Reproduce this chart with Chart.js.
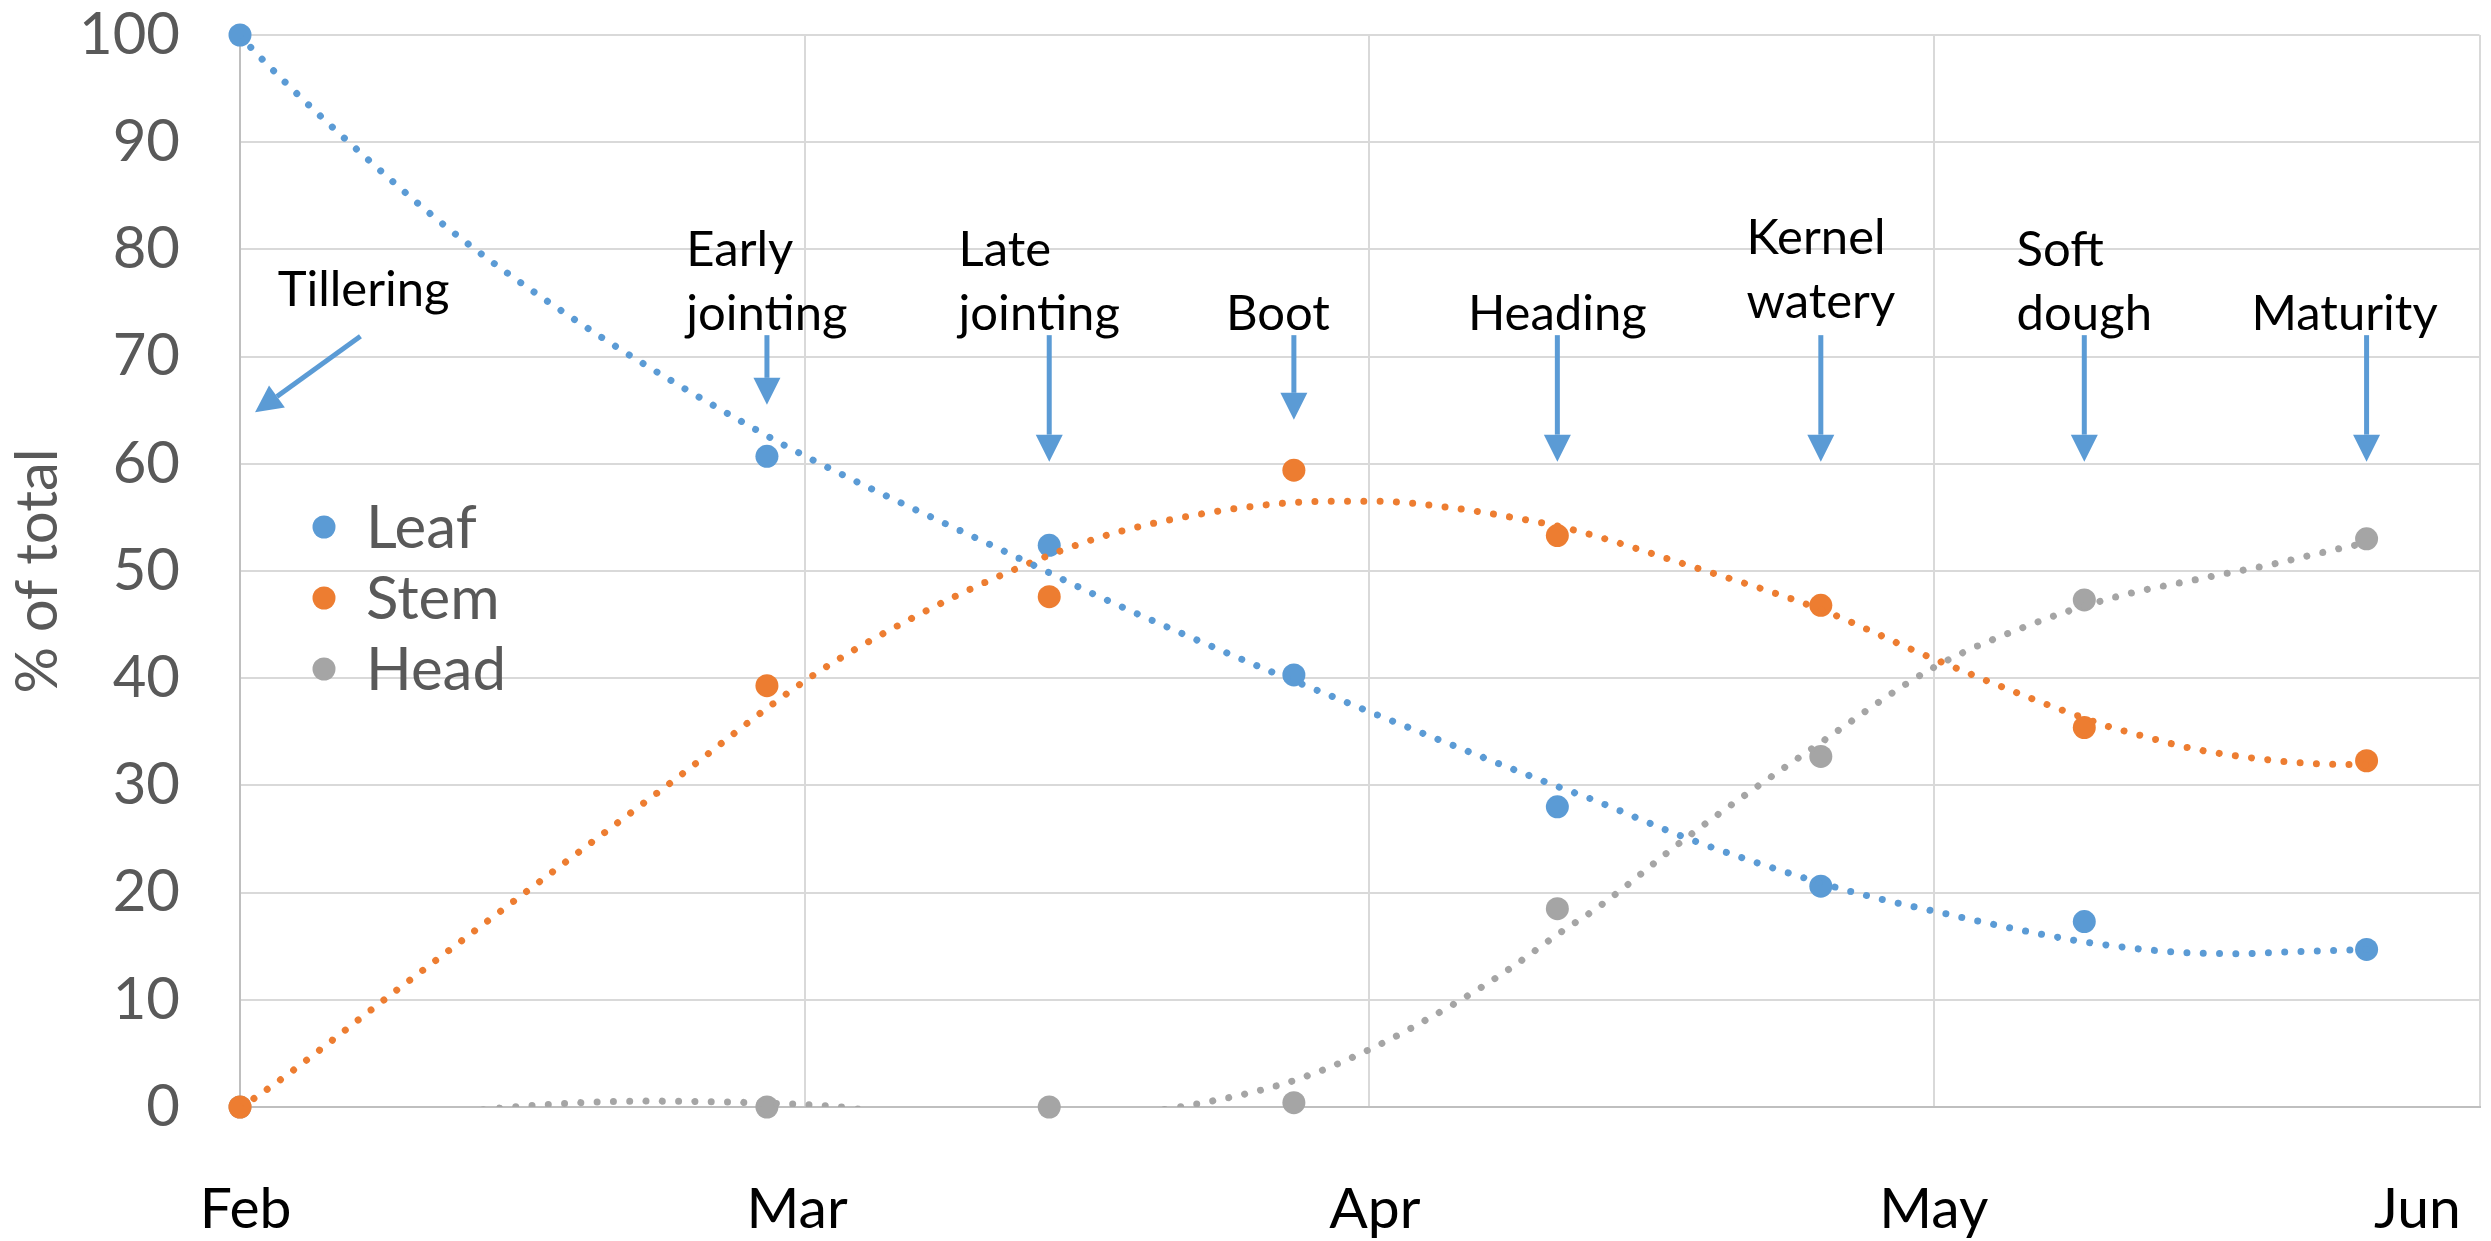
<!DOCTYPE html>
<html lang="en">
<head>
<meta charset="UTF-8" />
<title>Wheat growth stages - % of total</title>
<script src="https://cdn.jsdelivr.net/npm/chart.js@4.4.1/dist/chart.umd.min.js"></script>
<style>
  html, body { margin: 0; padding: 0; background: #ffffff; }
  #wrap { width: 2491px; height: 1241px; }
</style>
</head>
<body>
<div id="wrap"><canvas id="growthChart" width="2491" height="1241"></canvas></div>
<script>
// sampling dates, days after Feb 1
const sampleDays = [0, 28, 43, 56, 70, 84, 98, 113];
const leafPct = [100, 60.7, 52.4, 40.3, 28.0, 20.6, 17.3, 14.7];
const stemPct = [0, 39.3, 47.6, 59.4, 53.3, 46.8, 35.4, 32.3];
const headPct = [0, 0, 0, 0.4, 18.5, 32.7, 47.3, 53.0];

// dotted trend lines
const leafTrendDays = [0, 0.65, 8.2, 12.2, 19.3, 27.4, 30.5, 42.1, 45.3, 54.8, 57.2, 60.4, 70, 71.7, 77, 84, 87.4, 90.2, 93, 98, 102.5, 106, 109.3, 111.1, 113];
const leafTrendVals = [100, 98.7, 86.2, 80.4, 71.7, 63.2, 60.3, 50.6, 47.9, 40.6, 38.9, 36.6, 29.9, 28.8, 25.0, 20.9, 19.3, 18.2, 17.1, 15.4, 14.5, 14.3, 14.5, 14.6, 14.7];
const stemTrendDays = [0, 0.75, 8.4, 15, 22.7, 30.4, 35.6, 41.1, 45.8, 51, 56.1, 58.7, 60.4, 63.9, 67.3, 70.7, 77, 84, 90, 99.1, 100.7, 102.4, 104.1, 109.5, 113];
const stemTrendVals = [0, 0.8, 11.0, 19.8, 30.0, 40.2, 45.5, 50.1, 53.2, 55.3, 56.4, 56.5, 56.5, 56.0, 55.1, 53.9, 50.5, 46.4, 41.8, 35.6, 34.8, 34.0, 33.3, 32.1, 31.9];
const headTrendDays = [0, 7, 14.5, 21.5, 28, 31.9, 40, 49.9, 55.7, 59.7, 64.4, 67.3, 70.1, 72.3, 77, 84, 90, 95, 99.5, 104.5, 107.9, 112.1, 113];
const headTrendVals = [-2.5, -1.5, 0, 0.55, 0.35, 0, -2, 0, 2.3, 5.1, 9.5, 12.7, 16.2, 18.8, 25.3, 34.0, 41.0, 44.9, 47.5, 49.4, 50.6, 52.3, 52.6];

const seriesNames = ['Leaf', 'Stem', 'Head'];
const monthNames = ['Feb', 'Mar', 'Apr', 'May', 'Jun'];
const monthLabelDays = [0.3, 29.6, 60.3, 90, 115.7];

const stageNames = ['Early\njointing', 'Late\njointing', 'Boot', 'Heading', 'Kernel\nwatery', 'Soft\ndough', 'Maturity'];
const stageDays = [28, 43, 56, 70, 84, 98, 113];
const stageArrowTips = [65.5, 60.2, 64.1, 60.2, 60.2, 60.2, 60.2];

const seriesColors = ['#5B9BD5', '#ED7D31', '#A5A5A5'];
const FONT = 'Lato';

function toXY(xs, ys) {
  return xs.map((x, i) => ({ x: x, y: ys[i] }));
}

function pointSet(label, ys, color) {
  return {
    type: 'scatter',
    label: label,
    data: toXY(sampleDays, ys),
    pointRadius: 11.5,
    pointHoverRadius: 11.5,
    pointBackgroundColor: color,
    pointBorderWidth: 0,
    showLine: false,
    clip: false,
    order: 2
  };
}

function trendSet(label, xs, ys, color) {
  return {
    type: 'line',
    label: label + ' trend',
    data: toXY(xs, ys),
    borderColor: color,
    borderWidth: 7,
    borderDash: [0.001, 16.3],
    borderCapStyle: 'round',
    cubicInterpolationMode: 'monotone',
    pointRadius: 0,
    fill: false,
    order: 1
  };
}

function drawArrow(ctx, x1, y1, x2, y2) {
  const head = 27, half = 13.5;
  const ang = Math.atan2(y2 - y1, x2 - x1);
  const bx = x2 - head * Math.cos(ang);
  const by = y2 - head * Math.sin(ang);
  ctx.beginPath();
  ctx.moveTo(x1, y1);
  ctx.lineTo(bx, by);
  ctx.lineWidth = 5;
  ctx.strokeStyle = '#5B9BD5';
  ctx.stroke();
  ctx.beginPath();
  ctx.moveTo(x2, y2);
  ctx.lineTo(bx + half * Math.sin(ang), by - half * Math.cos(ang));
  ctx.lineTo(bx - half * Math.sin(ang), by + half * Math.cos(ang));
  ctx.closePath();
  ctx.fillStyle = '#5B9BD5';
  ctx.fill();
}

// text boxes that are not quite centred on their arrow (px)
const noteNudge = { 'Late\njointing': -10, 'Boot': -16, 'Maturity': -22 };

// stage labels with arrows
const stageNotes = {
  id: 'stageNotes',
  afterDatasetsDraw(chart) {
    const { ctx } = chart;
    const x = chart.scales.x, y = chart.scales.y;
    ctx.save();
    ctx.font = '49px ' + FONT;
    ctx.textBaseline = 'alphabetic';
    stageNames.forEach((name, i) => {
      const px = x.getPixelForValue(stageDays[i]);
      const top = y.getPixelForValue(72);
      const tip = y.getPixelForValue(stageArrowTips[i]);
      const lines = name.split('\n');
      const w = Math.max(...lines.map(l => ctx.measureText(l).width));
      // the Kernel box sits a little higher
      const lift = name.startsWith('Kernel') ? 12 : 0;
      const left = px - w / 2 + (noteNudge[name] || 0);
      ctx.fillStyle = '#000000';
      lines.forEach((l, j) => {
        ctx.fillText(l, left, top - 5 - lift - (lines.length - 1 - j) * 64);
      });
      drawArrow(ctx, px, top, px, tip);
    });
    // Tillering
    ctx.fillStyle = '#000000';
    ctx.fillText('Tillering', x.getPixelForValue(2.0), y.getPixelForValue(74.7));
    drawArrow(ctx, x.getPixelForValue(6.4), y.getPixelForValue(71.9),
      x.getPixelForValue(0.8), y.getPixelForValue(64.8));
    ctx.restore();
  }
};

// legend sits inside the plot
const insideLegend = {
  id: 'insideLegend',
  afterDatasetsDraw(chart) {
    const { ctx, chartArea } = chart;
    ctx.save();
    ctx.font = '60px ' + FONT;
    ctx.textBaseline = 'alphabetic';
    seriesNames.forEach((name, i) => {
      const cx = chartArea.left + 84;
      const cy = chartArea.top + 492 + i * 71;
      ctx.beginPath();
      ctx.arc(cx, cy, 11.5, 0, Math.PI * 2);
      ctx.fillStyle = seriesColors[i];
      ctx.fill();
      ctx.fillStyle = '#595959';
      ctx.fillText(name, cx + 42, cy + 21);
    });
    ctx.restore();
  }
};

const ctx = document.getElementById('growthChart').getContext('2d');
new Chart(ctx, {
  data: {
    datasets: [
      pointSet('Leaf', leafPct, seriesColors[0]),
      pointSet('Stem', stemPct, seriesColors[1]),
      pointSet('Head', headPct, seriesColors[2]),
      trendSet('Leaf', leafTrendDays, leafTrendVals, seriesColors[0]),
      trendSet('Stem', stemTrendDays, stemTrendVals, seriesColors[1]),
      trendSet('Head', headTrendDays, headTrendVals, seriesColors[2])
    ]
  },
  options: {
    responsive: false,
    devicePixelRatio: 1,
    animation: false,
    layout: { padding: { top: 35, right: 0, bottom: 0, left: 0 } },
    plugins: {
      legend: { display: false },
      tooltip: { enabled: false }
    },
    scales: {
      x: {
        type: 'linear',
        position: 'bottom',
        weight: 0,
        min: 0,
        max: 119,
        ticks: { display: false, stepSize: 30 },
        grid: {
          color: c => (c.tick && c.tick.value === 0) ? 'rgba(0,0,0,0)' : '#D9D9D9',
          lineWidth: 2,
          drawTicks: false
        },
        border: { display: true, color: '#BFBFBF', width: 2 },
        afterFit: s => { s.height = 0; s.paddingLeft = 0; s.paddingRight = 0; }
      },
      x2: {
        type: 'linear',
        position: 'bottom',
        weight: 1,
        min: 0,
        max: 119,
        grid: { display: false, drawTicks: false },
        border: { display: false },
        afterBuildTicks: s => { s.ticks = monthLabelDays.map(v => ({ value: v })); },
        ticks: {
          autoSkip: false,
          maxRotation: 0,
          padding: 68,
          color: '#000000',
          font: { family: FONT, size: 57 },
          callback: (v, i) => monthNames[i]
        },
        afterFit: s => { s.height = 134; s.paddingLeft = 0; s.paddingRight = 0; }
      },
      y: {
        type: 'linear',
        min: 0,
        max: 100,
        ticks: {
          stepSize: 10,
          padding: 60,
          color: '#595959',
          font: { family: FONT, size: 58 }
        },
        grid: {
          color: c => (c.tick && c.tick.value === 0) ? 'rgba(0,0,0,0)' : '#D9D9D9',
          lineWidth: 2,
          drawTicks: false
        },
        border: { display: true, color: '#BFBFBF', width: 2 },
        title: {
          display: true,
          text: '% of total',
          color: '#595959',
          font: { family: FONT, size: 58 },
          padding: { top: 3, bottom: 0 }
        },
        afterFit: s => { s.width = 240; s.paddingTop = 0; s.paddingBottom = 0; }
      }
    }
  },
  plugins: [stageNotes, insideLegend]
});
</script>
</body>
</html>
